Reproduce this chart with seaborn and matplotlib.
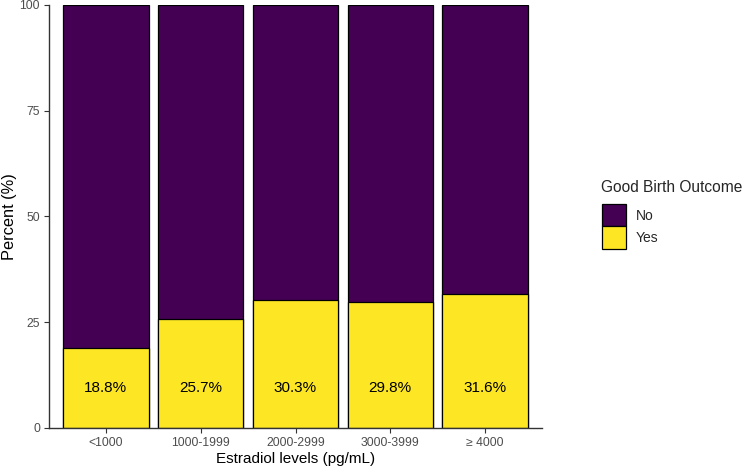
import pandas as pd
import numpy as np
import seaborn as sns
import matplotlib
matplotlib.use('Agg')
import matplotlib.pyplot as plt
from matplotlib.patches import Patch

# Data
categories = ['<1000', '1000-1999', '2000-2999', '3000-3999', '\u2265 4000']
yes_pct = [18.8, 25.7, 30.3, 29.8, 31.6]
outcome_levels = ['No', 'Yes']
outcome_colors = ['#440154', '#FDE725']

df = pd.DataFrame({'level': categories, 'Yes': yes_pct})
df['No'] = 100 - df['Yes']
df['total'] = df['Yes'] + df['No']

sns.set_style('white')
plt.rcParams['font.family'] = ['Liberation Sans', 'DejaVu Sans']

fig = plt.figure(figsize=(7.49, 4.68), dpi=100)
ax = fig.add_axes([49/749, 40/468, 493/749, 423/468])

# stacked bars: full height "No" underneath, "Yes" on top of it
sns.barplot(data=df, x='level', y='total', color=outcome_colors[0], width=0.9,
            edgecolor='black', linewidth=0.9, saturation=1, ax=ax)
sns.barplot(data=df, x='level', y='Yes', color=outcome_colors[1], width=0.9,
            edgecolor='black', linewidth=0.9, saturation=1, ax=ax)

for i, v in enumerate(df['Yes']):
    ax.text(i, 9.5, f'{v:.1f}%', ha='center', va='center', fontsize=11, color='black')

ax.set_xlim(-0.6, len(categories) - 0.4)
ax.set_ylim(0, 100)
ax.set_yticks([0, 25, 50, 75, 100])
ax.set_xlabel('Estradiol levels (pg/mL)', fontsize=11, color='black', labelpad=2)
ax.set_ylabel('Percent (%)', fontsize=11.8, color='black', labelpad=2)
ax.tick_params(axis='both', colors='#333333', labelcolor='#4D4D4D', labelsize=8.8,
               length=3.5, width=0.8, bottom=True, left=True, pad=3)
for s in ['top', 'right']:
    ax.spines[s].set_visible(False)
for s in ['left', 'bottom']:
    ax.spines[s].set_color('#333333')
    ax.spines[s].set_linewidth(1.0)

# legend: title drawn separately so the gap to the keys matches
fig.text(601/749, 1 - 187/468, 'Good Birth Outcome', fontsize=11.2, ha='left', va='center')
handles = [Patch(facecolor=c, edgecolor='black', linewidth=0.9) for c in outcome_colors]
fig.legend(handles, outcome_levels, loc='upper left',
           bbox_to_anchor=(602/749, 1 - 204/468), frameon=False, fontsize=10,
           handlelength=1.72, handleheight=2.1, handletextpad=0.7,
           labelspacing=0.0, borderaxespad=0, borderpad=0)

fig.savefig('out.png', dpi=100)
